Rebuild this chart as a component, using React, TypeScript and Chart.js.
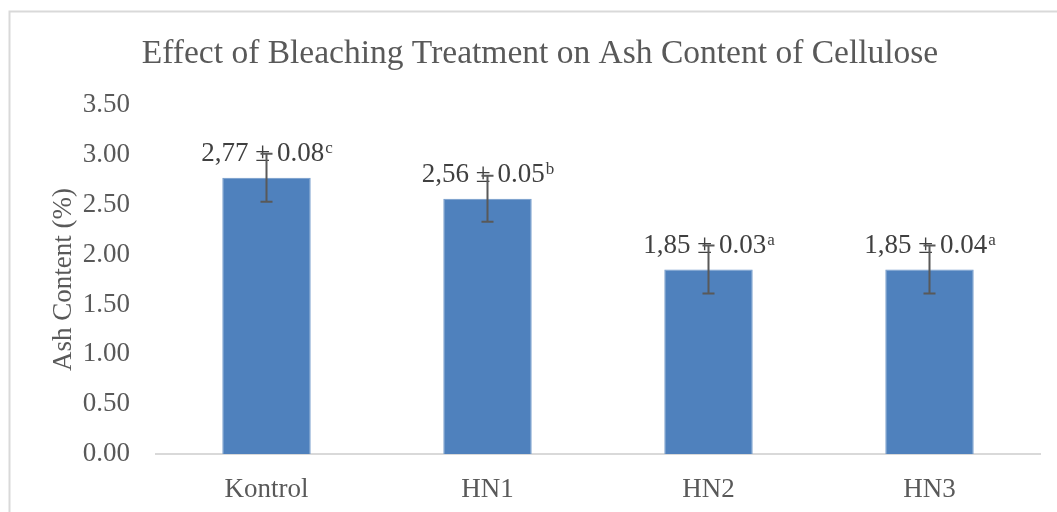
import React, { useEffect, useRef } from "react";
import { Chart, registerables } from "chart.js";

Chart.register(...registerables);

const categories = ["Kontrol", "HN1", "HN2", "HN3"];
const ashMeans = [2.77, 2.56, 1.85, 1.85];
const errorBars = [0.24, 0.23, 0.24, 0.24];
const meanLabels = ["2,77", "2,56", "1,85", "1,85"];
const sdLabels = ["0.08", "0.05", "0.03", "0.04"];
const letters = ["c", "b", "a", "a"];
const yMin = 0;
const yMax = 3.5;
const yStep = 0.5;

const chartTitle = "Effect of Bleaching Treatment on Ash Content of Cellulose";
const yTitle = "Ash Content (%)";

const FONT = "'Liberation Serif', 'Times New Roman', serif";
const GRAY = "#595959";

const decorPlugin = {
  id: "decor",
  beforeDraw(chart: any) {
    const ctx = chart.ctx;
    ctx.save();
    ctx.fillStyle = "#ffffff";
    ctx.fillRect(0, 0, chart.width, chart.height);
    ctx.strokeStyle = "#d9d9d9";
    ctx.lineWidth = 2;
    ctx.strokeRect(9.5, 11.5, 3000, 3000);
    ctx.fillStyle = GRAY;
    ctx.font = `33.5px ${FONT}`;
    ctx.textAlign = "center";
    ctx.textBaseline = "alphabetic";
    ctx.fillText(chartTitle, 540, 63);
    ctx.restore();
  },
  afterDatasetsDraw(chart: any) {
    const ctx = chart.ctx;
    const meta = chart.getDatasetMeta(0);
    const yScale = chart.scales.y;
    ctx.save();
    meta.data.forEach((bar: any, i: number) => {
      const x = bar.x;
      // data label
      const main = `${meanLabels[i]} ± ${sdLabels[i]}`;
      ctx.font = `27px ${FONT}`;
      const wMain = ctx.measureText(main).width;
      ctx.font = `17px ${FONT}`;
      const wSup = ctx.measureText(letters[i]).width;
      const total = wMain + wSup;
      const startX = x - total / 2;
      const baseY = bar.y - 17;
      ctx.fillStyle = "#404040";
      ctx.textAlign = "left";
      ctx.textBaseline = "alphabetic";
      ctx.font = `27px ${FONT}`;
      ctx.fillText(main, startX, baseY);
      ctx.font = `17px ${FONT}`;
      ctx.fillText(letters[i], startX + wMain + 1, baseY - 8);

      // error bar
      const yTop = yScale.getPixelForValue(ashMeans[i] + errorBars[i]);
      const yBot = yScale.getPixelForValue(ashMeans[i] - errorBars[i]);
      ctx.strokeStyle = GRAY;
      ctx.lineWidth = 2;
      ctx.beginPath();
      ctx.moveTo(x, yTop);
      ctx.lineTo(x, yBot);
      ctx.moveTo(x - 6, yTop);
      ctx.lineTo(x + 6, yTop);
      ctx.moveTo(x - 6, yBot);
      ctx.lineTo(x + 6, yBot);
      ctx.stroke();
    });
    ctx.restore();
  },
};

export default function App() {
  const ref = useRef<HTMLCanvasElement | null>(null);

  useEffect(() => {
    if (!ref.current) return;
    const chart = new Chart(ref.current, {
      type: "bar",
      data: {
        labels: categories,
        datasets: [
          {
            data: ashMeans,
            backgroundColor: "#4f81bd",
            borderColor: "#6f98c9",
            borderWidth: 1,
            barPercentage: 0.4,
            categoryPercentage: 1,
          },
        ],
      },
      options: {
        animation: false,
        responsive: false,
        devicePixelRatio: 1,
        layout: { padding: { left: 48, right: 17, top: 105, bottom: 0 } },
        plugins: {
          legend: { display: false },
          title: { display: false },
          tooltip: { enabled: false },
        },
        scales: {
          x: {
            grid: { display: false, drawTicks: false },
            border: { display: true, color: "#d9d9d9", width: 2 },
            ticks: {
              color: GRAY,
              font: { family: FONT, size: 27 },
              padding: 20,
              maxRotation: 0,
            },
            afterFit(scale: any) {
              scale.height = 58;
            },
          },
          y: {
            min: yMin,
            max: yMax,
            grid: { display: false, drawTicks: false },
            border: { display: false },
            ticks: {
              stepSize: yStep,
              color: GRAY,
              font: { family: FONT, size: 27 },
              padding: 26,
              callback: (v: any) => Number(v).toFixed(2),
            },
            title: {
              display: true,
              text: yTitle,
              color: GRAY,
              font: { family: FONT, size: 27 },
              padding: { top: 0, bottom: 0 },
            },
            afterFit(scale: any) {
              scale.width = 108;
            },
          },
        },
      },
      plugins: [decorPlugin],
    });
    return () => chart.destroy();
  }, []);

  return (
    <div style={{ position: "absolute", left: 0, top: 0, width: 1057, height: 512, overflow: "hidden" }}>
      <canvas ref={ref} width={1057} height={512} />
    </div>
  );
}
